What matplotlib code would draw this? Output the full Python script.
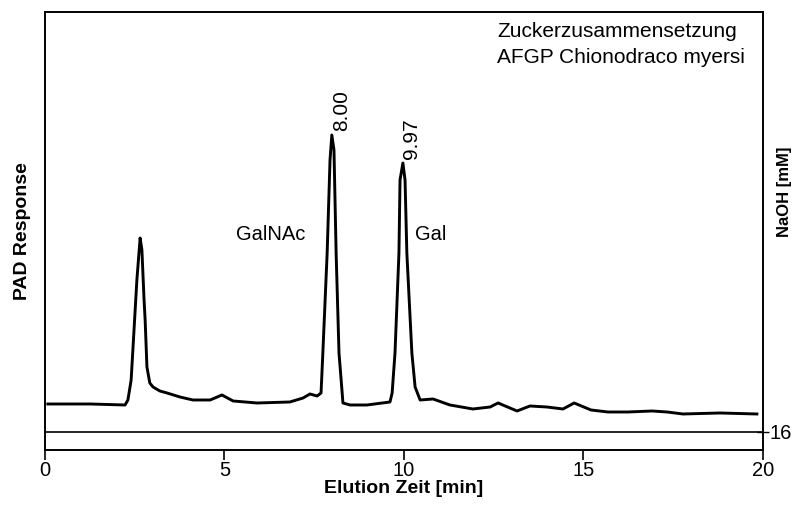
import numpy as np
import matplotlib
matplotlib.use("Agg")
import matplotlib.pyplot as plt

plt.rcParams['font.family'] = ['Liberation Sans', 'DejaVu Sans']

# chromatogram trace (time in min, PAD response in arbitrary units)
time_min = [0.08, 1.25, 2.23, 2.31, 2.40, 2.48, 2.56, 2.65, 2.70, 2.76, 2.79, 2.84,
            2.92, 3.01, 3.20, 3.40, 3.76, 4.12, 4.60, 4.93, 5.24, 5.91, 6.82, 7.19,
            7.38, 7.58, 7.69, 7.74, 7.86, 7.94, 7.99, 8.05, 8.11, 8.19, 8.25, 8.30,
            8.50, 8.97, 9.61, 9.67, 9.75, 9.86, 9.89, 9.97, 10.03, 10.08, 10.22, 10.31,
            10.45, 10.81, 11.28, 11.92, 12.40, 12.62, 13.15, 13.51, 13.98, 14.43, 14.74,
            15.21, 15.68, 16.24, 16.91, 17.33, 17.77, 18.80, 19.83]
response = [46, 46, 45, 50, 70, 120, 170, 212, 200, 150, 130, 83,
            67, 63, 59, 57, 53, 50, 50, 55, 49, 47, 48, 52,
            56, 54, 57, 97, 197, 290, 315, 300, 197, 97, 70, 47,
            45, 45, 48, 57, 97, 197, 270, 287, 270, 197, 97, 63,
            50, 51, 45, 41, 43, 47, 39, 44, 43, 41, 47,
            40, 38, 38, 39, 38, 36, 37, 36]

# NaOH gradient (isocratic 16 mM)
naoh_time = [0, 20]
naoh_mm = [16, 16]

peak_times = [8.00, 9.97]
peak_heights = [315, 287]
sugar_names = ["GalNAc", "Gal"]
sugar_pos = [(6.3, 215), (10.75, 215)]

fig = plt.figure(figsize=(7.99, 5.11), dpi=100)
ax = fig.add_axes([0.0563, 0.1194, 0.8986, 0.8571])

ax.plot(time_min, response, color='black', lw=2.1, solid_joinstyle='round')
ax.set_xlim(0, 20)
ax.set_ylim(0, 438)
ax.set_xticks([0, 5, 10, 15, 20])
ax.set_yticks([])
ax.tick_params(axis='x', direction='out', length=7, width=1.2, labelsize=14.5, pad=1)
for s in ax.spines.values():
    s.set_linewidth(1.2)

ax.set_xlabel("Elution Zeit [min]", fontsize=14, fontweight='bold', labelpad=0)
ax.set_ylabel("PAD Response", fontsize=14, fontweight='bold', labelpad=10)

ax2 = ax.twinx()
ax2.plot(naoh_time, naoh_mm, color='black', lw=1.2)
ax2.set_ylim(0, 389)
ax2.set_yticks([16])
ax2.tick_params(axis='y', direction='inout', length=8, width=1.0, labelsize=14.5, pad=1)
ax2.set_ylabel("NaOH [mM]", fontsize=12, fontweight='bold')
ax2.yaxis.set_label_coords(1.02, 0.59)
for s in ax2.spines.values():
    s.set_linewidth(1.2)

for t, h in zip(peak_times, peak_heights):
    ax.text(t + 0.25, h + 4, f"{t:.2f}", rotation=90, ha='center', va='bottom', fontsize=15)

for name, (x, y) in zip(sugar_names, sugar_pos):
    ax.text(x, y, name, ha='center', va='center', fontsize=14.5)

ax.text(12.6, 428, "Zuckerzusammensetzung\nAFGP Chionodraco myersi",
        ha='left', va='top', fontsize=15, linespacing=1.45)

fig.savefig("out.png", dpi=100)
